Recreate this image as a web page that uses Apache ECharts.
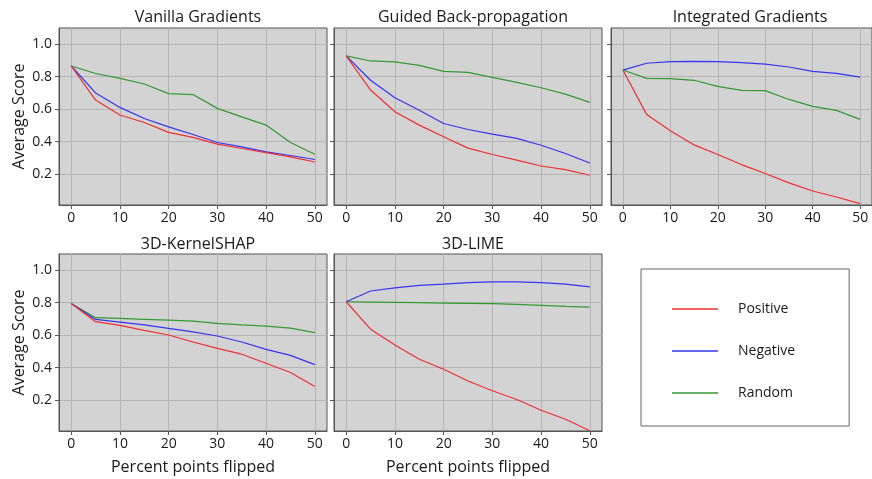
<!DOCTYPE html>
<html>
<head>
<meta charset="utf-8">
<script src="https://cdn.jsdelivr.net/npm/echarts@6/dist/echarts.min.js"></script>
<style>html,body{margin:0;padding:0;background:#fff}#c{width:872px;height:479px}</style>
</head>
<body>
<div id="c"></div>
<script>
const xValues = [0, 5, 10, 15, 20, 25, 30, 35, 40, 45, 50];
const xTicks = [0, 10, 20, 30, 40, 50];
const yTicks = [0.2, 0.4, 0.6, 0.8, 1.0];
const panelTitles = ['Vanilla Gradients', 'Guided Back-propagation', 'Integrated Gradients', '3D-KernelSHAP', '3D-LIME'];
const seriesNames = ['Positive', 'Negative', 'Random'];

const vanillaPositive = [0.866, 0.656, 0.564, 0.518, 0.457, 0.426, 0.385, 0.358, 0.333, 0.306, 0.275];
const vanillaNegative = [0.866, 0.700, 0.611, 0.543, 0.491, 0.444, 0.395, 0.368, 0.337, 0.315, 0.290];
const vanillaRandom   = [0.866, 0.820, 0.790, 0.755, 0.696, 0.690, 0.605, 0.553, 0.502, 0.395, 0.323];

const guidedPositive = [0.928, 0.718, 0.584, 0.502, 0.430, 0.360, 0.321, 0.286, 0.250, 0.228, 0.193];
const guidedNegative = [0.928, 0.778, 0.670, 0.594, 0.512, 0.475, 0.446, 0.420, 0.378, 0.327, 0.269];
const guidedRandom   = [0.928, 0.897, 0.891, 0.870, 0.833, 0.827, 0.796, 0.765, 0.732, 0.693, 0.642];

const integratedPositive = [0.841, 0.568, 0.467, 0.380, 0.321, 0.259, 0.204, 0.146, 0.096, 0.059, 0.018];
const integratedNegative = [0.841, 0.883, 0.893, 0.895, 0.893, 0.887, 0.877, 0.860, 0.833, 0.821, 0.798];
const integratedRandom   = [0.841, 0.790, 0.788, 0.778, 0.741, 0.716, 0.714, 0.660, 0.617, 0.593, 0.537];

const kernelPositive = [0.795, 0.683, 0.660, 0.630, 0.601, 0.558, 0.519, 0.483, 0.427, 0.370, 0.284];
const kernelNegative = [0.795, 0.697, 0.681, 0.663, 0.642, 0.620, 0.595, 0.558, 0.513, 0.476, 0.419];
const kernelRandom   = [0.795, 0.708, 0.703, 0.698, 0.693, 0.687, 0.673, 0.663, 0.656, 0.644, 0.616];

const limePositive = [0.806, 0.637, 0.540, 0.452, 0.390, 0.318, 0.258, 0.204, 0.138, 0.082, 0.012];
const limeNegative = [0.806, 0.872, 0.891, 0.907, 0.915, 0.924, 0.928, 0.928, 0.924, 0.915, 0.897];
const limeRandom   = [0.806, 0.804, 0.802, 0.800, 0.798, 0.796, 0.794, 0.790, 0.784, 0.777, 0.773];

const panelData = [
  [vanillaPositive, vanillaNegative, vanillaRandom],
  [guidedPositive, guidedNegative, guidedRandom],
  [integratedPositive, integratedNegative, integratedRandom],
  [kernelPositive, kernelNegative, kernelRandom],
  [limePositive, limeNegative, limeRandom]
];

const colors = ['#ee3030', '#3535ee', '#339933'];
const FONT = 'Open Sans';
const gridPos = [
  {left: 59, top: 28},
  {left: 334, top: 28},
  {left: 611, top: 28},
  {left: 59, top: 254},
  {left: 334, top: 254}
];
const GW = 268, GH = 177;

const grids = [], xAxes = [], yAxes = [], series = [], titles = [];
gridPos.forEach((p, i) => {
  grids.push({left: p.left, top: p.top, width: GW, height: GH, show: true,
    backgroundColor: '#d3d3d3', borderColor: '#555', borderWidth: 1, containLabel: false});
  titles.push({text: panelTitles[i], left: p.left + GW / 2, top: i < 3 ? 4 : 231, textAlign: 'center',
    textStyle: {fontFamily: FONT, fontSize: 16, fontWeight: 'normal', color: '#1a1a1a'}});
  const bottomRow = i >= 3;
  xAxes.push({type: 'value', gridIndex: i, min: -2.5, max: 52.5,
    name: bottomRow ? 'Percent points flipped' : '', nameLocation: 'middle', nameGap: 28,
    nameTextStyle: {fontFamily: FONT, fontSize: 16, color: '#1a1a1a'},
    axisLine: {show: true, onZero: false, lineStyle: {color: '#555', width: 1}},
    axisTick: {show: true, length: 4, inside: false, customValues: xTicks, lineStyle: {color: '#555'}},
    axisLabel: {show: true, customValues: xTicks, margin: 6, fontFamily: FONT, fontSize: 14, color: '#1a1a1a'},
    splitLine: {show: true, lineStyle: {color: '#b4b4b4', width: 1}}
  });
  const showLabels = (i === 0 || i === 3);
  yAxes.push({type: 'value', gridIndex: i, min: 0.01, max: 1.1,
    name: showLabels ? 'Average Score' : '', nameLocation: 'middle', nameGap: 32,
    nameTextStyle: {fontFamily: FONT, fontSize: 16, color: '#1a1a1a'},
    axisLine: {show: true, onZero: false, lineStyle: {color: '#555', width: 1}},
    axisTick: {show: true, length: 4, inside: false, customValues: yTicks, lineStyle: {color: '#555'}},
    axisLabel: {show: showLabels, customValues: yTicks, margin: 7, fontFamily: FONT, fontSize: 14, color: '#1a1a1a',
      formatter: v => v.toFixed(1)},
    splitLine: {show: true, lineStyle: {color: '#b4b4b4', width: 1}}
  });
  panelData[i].forEach((arr, k) => {
    series.push({type: 'line', name: seriesNames[k], xAxisIndex: i, yAxisIndex: i,
      data: xValues.map((x, j) => [x, arr[j]]), symbol: 'none', showSymbol: false,
      lineStyle: {color: colors[k], width: 1.2}, itemStyle: {color: colors[k]}, z: 5 - k, animation: false});
  });
});

const chart = echarts.init(document.getElementById('c'), null, {renderer: 'canvas'});
chart.setOption({
  animation: false,
  title: titles,
  grid: grids,
  xAxis: xAxes,
  yAxis: yAxes,
  series: series,
  legend: {
    data: seriesNames, orient: 'vertical', left: 641, top: 269,
    icon: 'path://M0,0 L46,0 L46,1.5 L0,1.5 Z',
    padding: [33, 54, 26, 31], itemGap: 28, itemWidth: 46, itemHeight: 14,
    borderColor: '#666', borderWidth: 1, backgroundColor: '#fff',
    textStyle: {fontFamily: FONT, fontSize: 14, color: '#1a1a1a', padding: [0, 0, 0, 15]}
  }
});
</script>
</body>
</html>
